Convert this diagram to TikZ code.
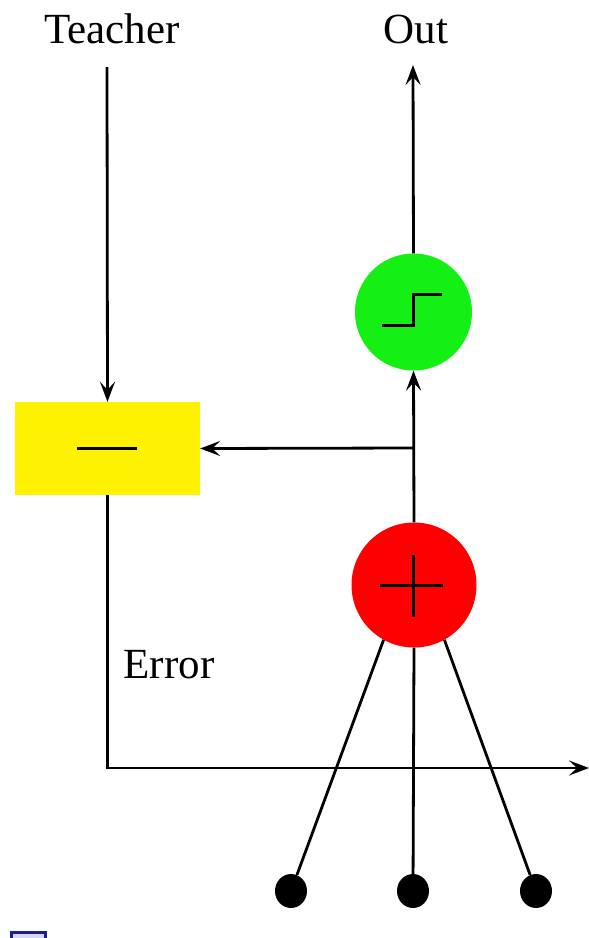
\documentclass[tikz,border=0pt]{standalone}
\usepackage{fontspec}
\setmainfont{Liberation Serif}
\usetikzlibrary{arrows.meta,shapes.geometric}
\begin{document}
\begin{tikzpicture}[x=1pt,y=-1pt,
  wire/.style={line width=2.8pt,black},
  arr/.style={wire,-{Stealth[length=20pt,width=15pt,inset=8pt]}},
  lbl/.style={font=\fontsize{43}{50}\selectfont,anchor=base,inner sep=0pt},
  unit/.style={circle,inner sep=0pt,draw=none},
  dot/.style={ellipse,fill=black,inner sep=0pt,minimum width=32pt,minimum height=34pt}]
\useasboundingbox (0,0) rectangle (589,938);
\clip (0,0) rectangle (589,938);

% labels
\node[lbl] (teacher) at (112,43) {Teacher};
\node[lbl] (out) at (416,43) {Out};
\node[lbl] (error) at (169,678) {Error};

% comparator box
\node[fill=yellow,minimum width=185pt,minimum height=93pt,inner sep=0pt] (cmp) at (107.5,448.5) {};
\draw[line width=3pt] (77,448) -- (137,448);

% threshold unit
\node[unit,fill={rgb,255:red,20;green,240;blue,20},minimum size=117pt] (thr) at (413.5,312) {};
\draw[line width=3pt] (382,325) -- (413,325) -- (413,294) -- (442,294);

% summation unit
\node[unit,fill=red,minimum size=125pt] (sum) at (414,585) {};
\draw[line width=3pt] (380,585) -- (443,585) (413,555) -- (413,617);

% inputs
\node[dot] (i1) at (291,891) {};
\node[dot] (i2) at (413,891) {};
\node[dot] (i3) at (536,891) {};

% free line ends
\coordinate (tin) at (107,67);
\coordinate (oend) at (413,65);
\coordinate (junc) at (413,448);
\coordinate (eend) at (589,768);

% connectors
\draw[arr] (tin) -- (cmp.north);
\draw[arr] (thr.north) -- (oend);
\draw[arr] (sum.north) -- (thr.south);
\draw[arr] (junc) -- (cmp.east);
\draw[arr] (cmp.south) |- (eend);
\draw[wire] (i1) -- (sum.-119);
\draw[wire] (i2) -- (sum.south);
\draw[wire] (i3) -- (sum.-61);

% navigation glyph in the corner
\draw[line width=3pt,draw={rgb,255:red,30;green,30;blue,140},fill={rgb,255:red,215;green,215;blue,245}] (11.5,932.5) rectangle (45.5,960);
\end{tikzpicture}
\end{document}
